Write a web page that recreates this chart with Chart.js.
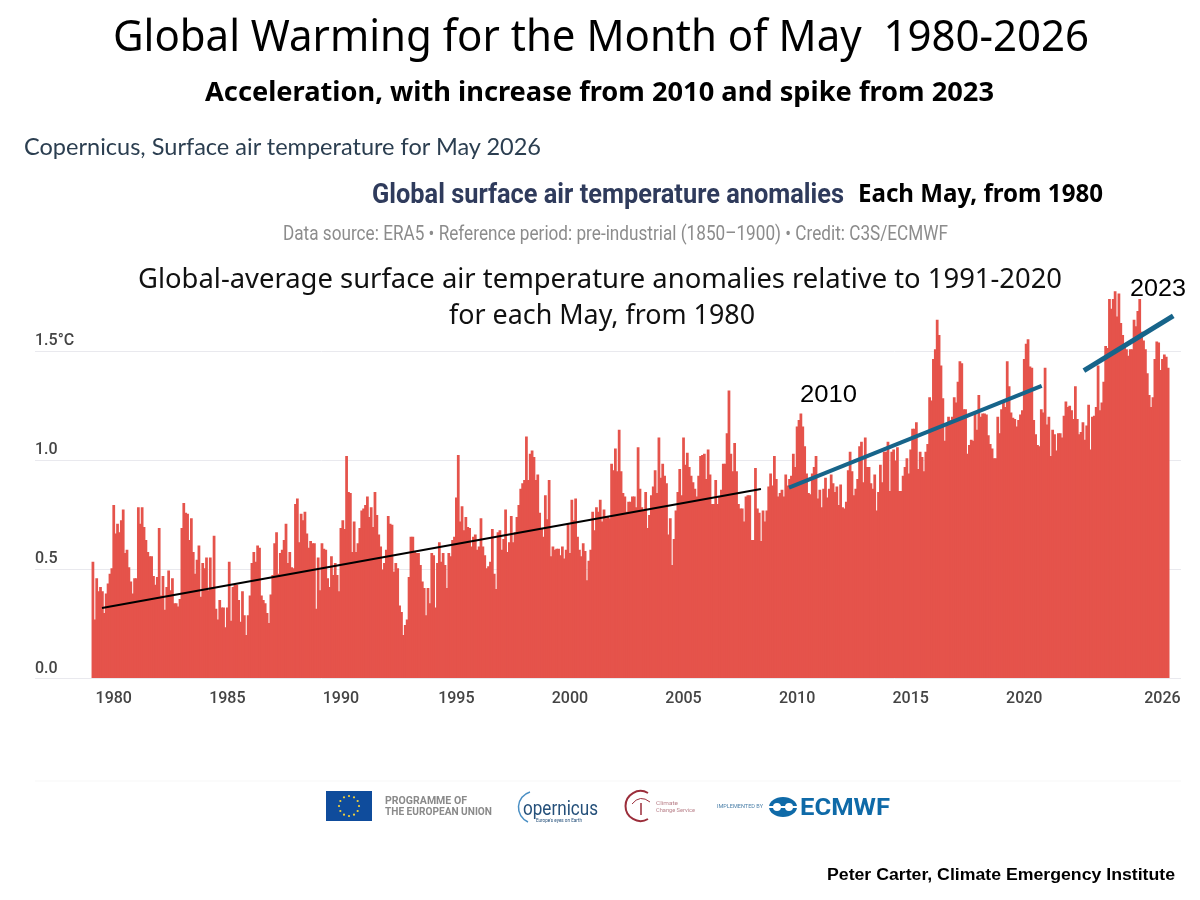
<!DOCTYPE html>
<html>
<head>
<meta charset="utf-8">
<title>Global Warming for the Month of May 1980-2026</title>
<script src="https://cdn.jsdelivr.net/npm/chart.js@4/dist/chart.umd.min.js"></script>
<style>
  html, body { margin: 0; background: #fff; }
  #wrap { position: relative; width: 1200px; height: 900px; overflow: hidden; }
  #chart { position: absolute; left: 0; top: 0; filter: blur(0.35px); }
  #overlay { position: absolute; left: 0; top: 0; }
  .sans { font-family: "Noto Sans", sans-serif; }
  .cond { font-family: Roboto, sans-serif; }
  .arial { font-family: "Liberation Sans", sans-serif; }
</style>
</head>
<body>
<div id="wrap">
  <canvas id="chart" width="1200" height="900"></canvas>
  <svg id="overlay" width="1200" height="900" xmlns="http://www.w3.org/2000/svg">
    <text class="sans" x="113" y="51" font-size="44" fill="#000" textLength="976" lengthAdjust="spacingAndGlyphs" xml:space="preserve">Global Warming for the Month of May  1980-2026</text>
    <text class="sans" x="205" y="101" font-size="26" font-weight="700" fill="#000" textLength="789" lengthAdjust="spacingAndGlyphs">Acceleration, with increase from 2010 and spike from 2023</text>
    <text x="24" y="155" font-family="Lato" font-size="22.5" fill="#2b3e50" textLength="517" lengthAdjust="spacingAndGlyphs">Copernicus, Surface air temperature for May 2026</text>
    <text class="cond" x="372" y="203" font-size="28" font-weight="700" fill="#2f3b5c" textLength="472" lengthAdjust="spacingAndGlyphs">Global surface air temperature anomalies</text>
    <text class="sans" x="858" y="202" font-size="25" font-weight="700" fill="#000" textLength="245" lengthAdjust="spacingAndGlyphs">Each May, from 1980</text>
    <text class="cond" x="283" y="240" font-size="20" fill="#8c8c8c" textLength="665" lengthAdjust="spacingAndGlyphs">Data source: ERA5 • Reference period: pre-industrial (1850–1900) • Credit: C3S/ECMWF</text>
    <text class="sans" x="138" y="288" font-size="28" fill="#111" textLength="924" lengthAdjust="spacingAndGlyphs">Global-average surface air temperature anomalies relative to 1991-2020</text>
    <text class="sans" x="449" y="324" font-size="28" fill="#111" textLength="306" lengthAdjust="spacingAndGlyphs">for each May, from 1980</text>
    <text class="arial" x="800" y="402" font-size="24" fill="#000" textLength="57" lengthAdjust="spacingAndGlyphs">2010</text>
    <text class="arial" x="1130" y="296" font-size="24" fill="#000" textLength="56" lengthAdjust="spacingAndGlyphs">2023</text>
    <text class="arial" x="827" y="880" font-size="16" font-weight="700" fill="#000" textLength="348" lengthAdjust="spacingAndGlyphs">Peter Carter, Climate Emergency Institute</text>
    <line x1="35" y1="781" x2="1181" y2="781" stroke="#f7f7f7" stroke-width="1"/>
    <!-- logo strip -->
    <g style="filter: blur(0.4px)">
      <rect x="326" y="791" width="46" height="30" fill="#0f4c9c"/>
      <g id="stars" fill="#f5d33c"></g>
      <text class="cond" x="385" y="804" font-size="10" font-weight="700" fill="#8a8a8a" textLength="82" lengthAdjust="spacingAndGlyphs">PROGRAMME OF</text>
      <text class="cond" x="385" y="815" font-size="10" font-weight="700" fill="#8a8a8a" textLength="107" lengthAdjust="spacingAndGlyphs">THE EUROPEAN UNION</text>
      <path d="M530 792 A16 16 0 0 0 528 822" fill="none" stroke="#4a8fc4" stroke-width="1.5"/>
      <text class="cond" x="523" y="815" font-size="21" fill="#25507a" textLength="75" lengthAdjust="spacingAndGlyphs">opernicus</text>
      <text class="cond" x="536" y="822" font-size="5" fill="#25507a" textLength="46" lengthAdjust="spacingAndGlyphs">Europe's eyes on Earth</text>
      <path d="M648 793 A15 15 0 1 0 648 819" fill="none" stroke="#9b2d3a" stroke-width="2"/>
      <path d="M632 804 Q640 794 650 802" fill="none" stroke="#9b2d3a" stroke-width="1"/>
      <line x1="641" y1="803" x2="641" y2="815" stroke="#9b2d3a" stroke-width="1.5"/>
      <text class="cond" x="656" y="805" font-size="6" fill="#b9818a" textLength="22" lengthAdjust="spacingAndGlyphs">Climate</text>
      <text class="cond" x="656" y="812" font-size="6" fill="#b9818a" textLength="39" lengthAdjust="spacingAndGlyphs">Change Service</text>
      <text class="cond" x="717" y="808" font-size="6" fill="#4a7fa8" textLength="46" lengthAdjust="spacingAndGlyphs">IMPLEMENTED BY</text>
      <ellipse cx="783" cy="807" rx="14" ry="10" fill="#0f6aa8"/>
      <line x1="769" y1="807" x2="797" y2="807" stroke="#fff" stroke-width="2"/>
      <circle cx="777" cy="807" r="4" fill="#fff"/>
      <circle cx="789" cy="807" r="4" fill="#fff"/>
      <text class="cond" x="800" y="815" font-size="24" font-weight="700" fill="#0f6aa8" textLength="90" lengthAdjust="spacingAndGlyphs">ECMWF</text>
    </g>
  </svg>
</div>
<script>
// Monthly anomaly, index 0 = Jan 1979
const values1979to1990 = [
  .535,.27,.46,.40,.42,.40,.30,.39,.435,.48,.505,.795,
  .665,.71,.67,.725,.775,.575,.59,.51,.445,.39,.46,.46,
  .785,.71,.785,.695,.635,.58,.56,.56,.47,.43,.465,.69,
  .38,.47,.315,.42,.495,.405,.46,.345,.345,.33,.365,.69,
  .805,.76,.755,.635,.735,.58,.48,.545,.61,.375,.53,.505,
  .555,.405,.555,.42,.655,.32,.27,.36,.325,.325,.235,.325,
  .535,.265,.42,.43,.43,.36,.26,.40,.29,.20,.29,.38,
  .53,.58,.535,.61,.60,.38,.36,.345,.30,.255,.385,.475,
  .62,.67,.48,.575,.59,.635,.71,.53,.58,.51,.505,.80,
  .825,.625,.755,.725,.765,.665,.60,.63,.62,.62,.32,.555,
  .405,.62,.595,.59,.46,.42,.56,.475,.53,.475,.40,.69,
  .725,.685,1.02,.855,.85,.58,.72,.58,.62
];
const values1990to2002 = [
  .69,.77,.78,.795,.835,.74,.785,.695,.855,.75,.66,.605,
  .50,.53,.59,.745,.71,.705,.49,.53,.505,.335,.305,.20,
  .245,.27,.465,.65,.65,.58,.575,.575,.52,.445,.415,.29,
  .415,.345,.575,.565,.325,.53,.625,.535,.575,.52,.415,.575,
  .56,.635,.65,.83,1.025,.72,.79,.68,.74,.695,.69,.605,
  .65,.66,.59,.605,.735,.605,.565,.505,.515,.535,.685,.48,
  .41,.67,.68,.59,.64,.775,.58,.625,.745,.625,.67,.74,
  .795,.87,.895,.91,1.11,.91,1.03,1.045,1.015,.91,.935,.76,
  .69,.65,.84,.73,.91,.56,.605,.59,.595,.595,.565,.605,
  .55,.59,.71,.575,.82,.725,.825,.65,.59,.56,.62,.585,
  .45,.54,.59,.765,.68,.785,.765,.82,.72,.775,.735,.74,
  .735,.985,.955,1.055,.95,1.14
];
const values2002to2014 = [
  .95,.85,.835,.765,.81,.81,.835,.835,.785,1.06,.87,.785,
  .77,.855,.69,.75,.84,.88,.955,.85,1.105,.92,.985,.93,
  .895,.66,.735,.52,.64,.77,.855,.96,.84,1.105,.98,1.035,
  .97,.93,.90,.87,.835,.93,1.02,1.025,1.03,.915,1.05,.935,
  .80,.80,.91,.80,.835,.865,.985,.985,1.125,1.32,1.03,.95,
  1.08,.95,.80,.78,.78,.72,.835,.84,.84,.635,.635,.965,
  .78,.76,.63,.77,.72,.77,.88,.94,.885,1.02,.915,.835,
  .85,.865,.835,.935,.885,.915,.93,1.03,.97,1.155,1.185,1.215,
  1.155,1.065,.94,.85,.845,.94,.97,1.02,.825,.865,.785,.87,
  .92,.83,.87,.935,.895,.855,.88,.795,.89,.785,.78,.81,
  .955,1.04,.95,.84,.87,.915,1.065,1.085,.90,1.105,.97,.97,
  .895,.87,.935,.77,.855,.98,.90,1.04,1.04,1.085,.86,1.04,1.05,1.0,1.06
];
const values2014to2026 = [
  .86,.86,.93,.97,1.01,.94,1.05,1.145,1.145,1.175,.96,1.04,
  1.015,.95,1.04,1.075,1.29,1.275,1.465,1.51,1.645,1.575,1.435,1.285,
  1.09,1.17,1.2,1.185,1.2,1.29,1.265,1.36,1.455,1.445,1.235,1.235,
  1.03,1.07,1.095,1.09,1.215,1.14,1.3,1.2,1.215,1.215,1.21,1.115,
  1.075,1.055,1.01,1.01,1.2,1.125,1.235,1.27,1.245,1.455,1.34,1.22,
  1.195,1.19,1.155,1.185,1.21,1.23,1.465,1.535,1.555,1.43,1.425,1.185,
  1.12,1.07,1.065,1.235,1.22,1.425,1.165,1.2,1.02,1.14,1.12,1.045,
  1.125,1.125,1.105,1.205,1.27,1.245,1.25,1.23,1.19,1.34,1.19,1.12,
  1.13,1.175,1.095,1.16,1.255,1.05,1.2,1.205,1.245,1.435,1.23,1.265,
  1.36,1.525,1.515,1.74,1.695,1.74,1.775,1.66,1.765,1.63,1.575,1.535,
  1.51,1.48,1.51,1.51,1.645,1.615,1.685,1.74,1.59,1.55,1.51,1.40,
  1.30,1.245,1.29,1.465,1.545,1.54,1.415,1.465,1.485,1.475,1.425
];
const anomalies = [...values1979to1990, ...values1990to2002, ...values2002to2014, ...values2014to2026];

const tickMonths = [11, 71, 131, 192, 252, 312, 372, 432, 492, 565];
const tickYears = ["1980", "1985", "1990", "1995", "2000", "2005", "2010", "2015", "2020", "2026"];
const yTicks = [0, 0.5, 1, 1.5];

// hand drawn trend lines on the original
const trend1980Months = [4.8, 352.9];
const trend1980Values = [0.323, 0.869];
const trend2010Months = [367.7, 501.2];
const trend2010Values = [0.875, 1.342];
const trend2023Months = [523.5, 570.7];
const trend2023Values = [1.412, 1.663];

function linePoints(months, vals) {
  return months.map((m, i) => ({ x: m, y: vals[i] }));
}

function trendDataset(months, vals, color, width) {
  return {
    type: "line",
    data: linePoints(months, vals),
    borderColor: color,
    borderWidth: width,
    pointRadius: 0,
    borderCapStyle: "butt",
    order: 1
  };
}

// EU flag stars
const stars = document.getElementById("stars");
for (let i = 0; i < 12; i++) {
  const a = i * Math.PI / 6;
  const c = document.createElementNS("http://www.w3.org/2000/svg", "circle");
  c.setAttribute("cx", 349 + 10 * Math.cos(a));
  c.setAttribute("cy", 806 + 10 * Math.sin(a));
  c.setAttribute("r", 1.1);
  stars.appendChild(c);
}

const tickFont = { family: "Roboto", size: 16, weight: "500" };

new Chart(document.getElementById("chart"), {
  type: "bar",
  data: {
    datasets: [
      {
        data: anomalies.map((v, i) => ({ x: i, y: v })),
        backgroundColor: "#e5534b",
        borderWidth: 0,
        barPercentage: 1.45,
        categoryPercentage: 1,
        order: 2
      },
      trendDataset(trend1980Months, trend1980Values, "#000000", 2),
      trendDataset(trend2010Months, trend2010Values, "#17648a", 4),
      trendDataset(trend2023Months, trend2023Values, "#17648a", 5)
    ]
  },
  options: {
    responsive: false,
    animation: false,
    layout: { padding: { left: 35, right: 19, top: 275, bottom: 191.5 } },
    plugins: { legend: { display: false }, title: { display: false }, tooltip: { enabled: false } },
    scales: {
      x: {
        type: "linear",
        offset: false,
        min: -30.6,
        max: 574.8,
        grid: { display: false },
        border: { display: false },
        afterBuildTicks: (axis) => { axis.ticks = tickMonths.map((m) => ({ value: m })); },
        afterFit: (axis) => { axis.height = 30; },
        ticks: {
          autoSkip: false,
          maxRotation: 0,
          padding: 3,
          color: "#444444",
          font: tickFont,
          callback: (v) => tickYears[tickMonths.indexOf(v)]
        }
      },
      y: {
        min: 0,
        max: 1.85,
        grid: { color: "#e9e9ee", drawTicks: false },
        border: { display: false },
        afterBuildTicks: (axis) => { axis.ticks = yTicks.map((t) => ({ value: t })); },
        ticks: {
          mirror: true,
          padding: 0,
          labelOffset: -10,
          color: "#444444",
          font: tickFont,
          callback: (v) => (v === 1.5 ? "1.5°C" : v.toFixed(1))
        }
      }
    }
  }
});
</script>
</body>
</html>
